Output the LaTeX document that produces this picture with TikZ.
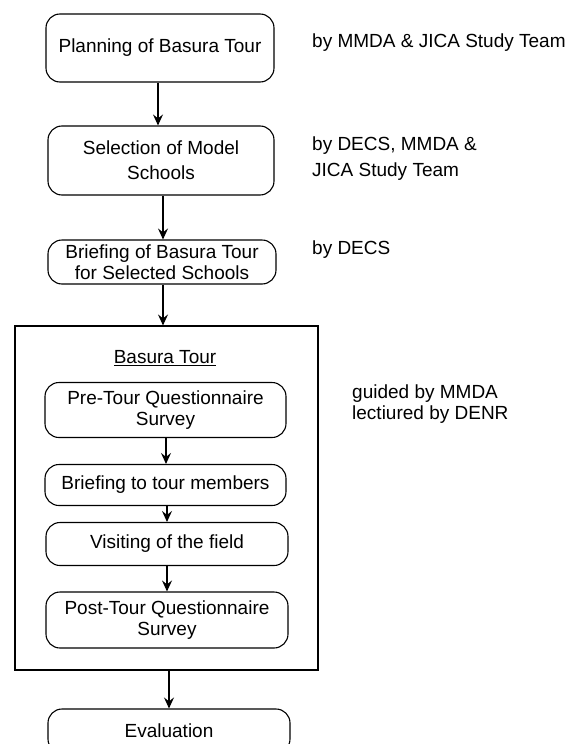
\documentclass[tikz,border=0pt]{standalone}
\usepackage{fontspec}
\setmainfont{Liberation Sans}
\usetikzlibrary{arrows.meta}
\begin{document}
\begin{tikzpicture}[x=1pt,y=-1pt,
  font=\fontsize{19}{21}\selectfont,
  box/.style={draw, line width=1.1pt, rounded corners=14pt, align=center, inner sep=0pt},
  wide/.style={font=\fontsize{19}{25}\selectfont},
  side/.style={anchor=west, align=left, inner sep=0pt},
  arr/.style={line width=1.1pt, -{Stealth[length=11pt,width=10pt,inset=4pt]}}]
\useasboundingbox (0,0) rectangle (575,744);
\node[box, minimum width=228pt, minimum height=68pt] (b1) at (160,48) {Planning of Basura Tour};
\node[box, wide, minimum width=226pt, minimum height=69pt] (b2) at (161,160.5) {Selection of Model\\Schools};
\node[box, minimum width=228pt, minimum height=44pt] (b3) at (162,262) {Briefing of Basura Tour\\for Selected Schools};
\node[draw, line width=1.1pt, minimum width=303pt, minimum height=344pt, inner sep=0pt] (outer) at (166.5,498) {};
\node (title) at (165,358) {\underline{Basura Tour}};
\node[box, minimum width=241pt, minimum height=55pt] (p1) at (165.5,410) {Pre-Tour Questionnaire\\Survey};
\node[box, minimum width=241pt, minimum height=41pt] (p2) at (165.5,485) {Briefing to tour members};
\node[box, minimum width=242pt, minimum height=43pt] (p3) at (167,544) {Visiting of the field};
\node[box, minimum width=242pt, minimum height=56pt] (p4) at (167,620) {Post-Tour Questionnaire\\Survey};
\node[box, minimum width=242pt, minimum height=44pt] (ev) at (169,731) {Evaluation};
\node[side] (s1) at (312,43) {by MMDA \& JICA Study Team};
\node[side, font=\fontsize{19}{26}\selectfont] (s2) at (312,159) {by DECS, MMDA \&\\JICA Study Team};
\node[side] (s3) at (312,250) {by DECS};
\node[side] (s4) at (352,404) {guided by MMDA\\lectiured by DENR};
\draw[arr] (b1.south -| 158,0) -- (b2.north -| 158,0);
\draw[arr] (b2.south -| 163,0) -- (b3.north -| 163,0);
\draw[arr] (b3.south -| 163,0) -- (outer.north -| 163,0);
\draw[arr] (p1.south -| 166,0) -- (p2.north -| 166,0);
\draw[arr] (p2.south -| 167,0) -- (p3.north -| 167,0);
\draw[arr] (p3.south -| 167,0) -- (p4.north -| 167,0);
\draw[arr] (outer.south -| 169,0) -- (ev.north -| 169,0);
\end{tikzpicture}
\end{document}
